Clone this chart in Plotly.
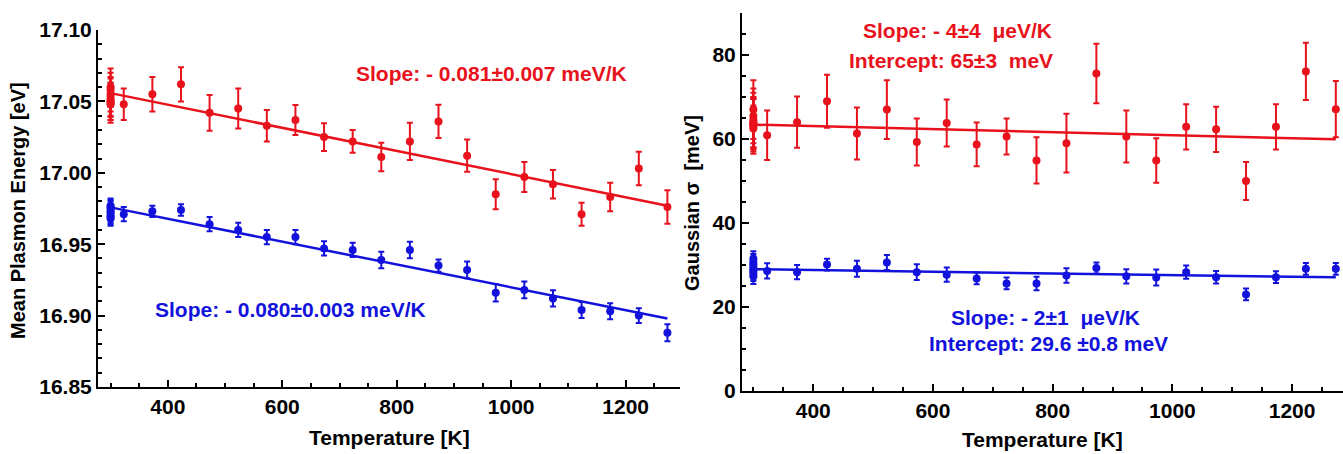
import plotly.graph_objects as go

W, H = 1343, 454

# ---------------- data ----------------
temps = [300, 300, 300, 300, 300, 300, 300, 300,
         323, 373, 423, 473, 523, 573, 623, 673, 723, 773,
         823, 873, 923, 973, 1023, 1073, 1123, 1173, 1223, 1273]

# Left panel: mean plasmon energy [eV]
energy_red = [17.060, 17.058, 17.055, 17.053, 17.051, 17.050, 17.049, 17.048,
              17.048, 17.055, 17.062, 17.042, 17.045, 17.033, 17.037, 17.025, 17.022, 17.011,
              17.022, 17.036, 17.012, 16.985, 16.997, 16.992, 16.971, 16.983, 17.003, 16.976]
energy_red_err = [0.013, 0.012, 0.012, 0.013, 0.012, 0.013, 0.012, 0.013,
                  0.011, 0.012, 0.012, 0.0125, 0.014, 0.011, 0.0105, 0.0097, 0.008, 0.010,
                  0.013, 0.0117, 0.0113, 0.0105, 0.0105, 0.010, 0.008, 0.010, 0.0117, 0.0117]
energy_blue = [16.977, 16.976, 16.975, 16.973, 16.972, 16.970, 16.969, 16.968,
               16.971, 16.973, 16.974, 16.964, 16.960, 16.955, 16.955, 16.947, 16.946, 16.939,
               16.946, 16.935, 16.932, 16.916, 16.918, 16.912, 16.904, 16.903, 16.900, 16.888]
energy_blue_err = [0.005, 0.005, 0.005, 0.005, 0.005, 0.005, 0.005, 0.005,
                   0.005, 0.004, 0.004, 0.005, 0.005, 0.005, 0.005, 0.005, 0.005, 0.0058,
                   0.0058, 0.0043, 0.0058, 0.0062, 0.0058, 0.0057, 0.0056, 0.0056, 0.0052, 0.006]

# Right panel: Gaussian sigma [meV]
sigma_red = [67.0, 65.5, 64.5, 64.0, 63.5, 63.0, 62.5, 63.8,
             60.9, 64.0, 69.0, 61.3, 67.0, 59.3, 63.8, 58.7, 60.6, 54.9,
             59.0, 75.6, 60.6, 54.9, 62.9, 62.3, 50.0, 62.9, 76.1, 67.1]
sigma_red_err = [7.0, 6.5, 6.5, 6.0, 6.0, 6.5, 5.5, 6.0,
                 5.9, 6.1, 6.3, 6.2, 7.0, 5.6, 5.6, 5.2, 4.3, 5.5,
                 7.0, 7.1, 6.2, 5.3, 5.4, 5.4, 4.5, 5.4, 6.8, 6.7]
sigma_blue = [31.5, 30.8, 30.2, 29.6, 29.0, 28.5, 28.0, 27.3,
              28.6, 28.3, 30.1, 29.1, 30.6, 28.3, 27.7, 26.8, 25.6, 25.6,
              27.5, 29.3, 27.3, 27.0, 28.3, 27.1, 23.0, 27.1, 29.1, 29.1]
sigma_blue_err = [1.8, 1.8, 1.8, 1.8, 1.8, 1.8, 1.8, 1.8,
                  1.8, 1.7, 1.4, 1.9, 1.8, 1.9, 1.7, 1.4, 1.4, 1.6,
                  1.7, 1.3, 1.7, 1.9, 1.6, 1.5, 1.4, 1.4, 1.4, 1.4]

# linear fits (value = intercept + slope * T)
fit_energy_red = (17.0801, -0.000081)
fit_energy_blue = (16.9998, -0.000080)
fit_sigma_red = (64.5, -0.0036)
fit_sigma_blue = (29.6, -0.002)

RED = "#e8121c"
BLUE = "#1212dc"
FONT = "Liberation Sans, Arial, sans-serif"

fig = go.Figure()

def add_series(x, y, err, color, xa, ya):
    fig.add_trace(go.Scatter(
        x=x, y=y, mode="markers",
        marker=dict(color=color, size=8),
        error_y=dict(type="data", array=err, visible=True, color=color,
                     thickness=2, width=3),
        xaxis=xa, yaxis=ya, showlegend=False))

def add_fit(x, fit, color, xa, ya):
    x0, x1 = min(x), max(x)
    b, m = fit
    fig.add_trace(go.Scatter(
        x=[x0, x1], y=[b + m * x0, b + m * x1], mode="lines",
        line=dict(color=color, width=2.5),
        xaxis=xa, yaxis=ya, showlegend=False))

add_fit(temps, fit_energy_red, RED, "x", "y")
add_fit(temps, fit_energy_blue, BLUE, "x", "y")
add_series(temps, energy_red, energy_red_err, RED, "x", "y")
add_series(temps, energy_blue, energy_blue_err, BLUE, "x", "y")

add_fit(temps, fit_sigma_red, RED, "x2", "y2")
add_fit(temps, fit_sigma_blue, BLUE, "x2", "y2")
add_series(temps, sigma_red, sigma_red_err, RED, "x2", "y2")
add_series(temps, sigma_blue, sigma_blue_err, BLUE, "x2", "y2")

tickfont = dict(family=FONT, size=21, color="black", weight="bold")

def axis_common():
    return dict(showline=True, linecolor="black", linewidth=2,
                ticks="inside", ticklen=7, tickwidth=2, tickcolor="black",
                showgrid=False, zeroline=False, tickfont=tickfont,
                automargin=False)

minor = lambda d: dict(dtick=d, ticks="inside", ticklen=4, tickwidth=1.5, tickcolor="black")

fig.update_layout(
    width=W, height=H,
    margin=dict(l=0, r=0, t=0, b=0),
    paper_bgcolor="white", plot_bgcolor="white",
    xaxis=dict(domain=[98 / W, 680 / W], range=[278, 1295], anchor="y",
               dtick=200, tick0=0, minor=minor(50), **axis_common()),
    yaxis=dict(domain=[1 - 387 / H, 1 - 30 / H], range=[16.85, 17.10], anchor="x",
               dtick=0.05, tick0=16.85, tickformat=".2f", minor=minor(0.01),
               **axis_common()),
    xaxis2=dict(domain=[742 / W, 1.0], range=[281, 1285], anchor="y2",
                dtick=200, tick0=0, minor=minor(50), **axis_common()),
    yaxis2=dict(domain=[1 - 391 / H, 1 - 13 / H], range=[0, 90], anchor="x2",
                dtick=20, tick0=0, minor=minor(5), **axis_common()),
)

def ann(text, x, y, color="black", size=21, angle=0):
    fig.add_annotation(text=text, x=x / W, y=1 - y / H, xref="paper", yref="paper",
                       showarrow=False, textangle=angle, xanchor="center", yanchor="middle",
                       font=dict(family=FONT, size=size, color=color, weight="bold"))

ann("Slope: - 0.081±0.007 meV/K", 491, 73, RED)
ann("Slope: - 0.080±0.003 meV/K", 290, 309, BLUE)
ann("Slope: - 4±4  μeV/K", 957, 31, RED)
ann("Intercept: 65±3  meV", 951, 60, RED)
ann("Slope: - 2±1  μeV/K", 1045, 317, BLUE)
ann("Intercept: 29.6 ±0.8 meV", 1048, 343, BLUE)

ann("Temperature [K]", 389, 437, "black", 21)
ann("Temperature [K]", 1042, 439, "black", 21)
ann("Mean Plasmon Energy [eV]", 18, 211, "black", 20, -90)
ann("Gaussian σ  [meV]", 692, 203, "black", 20, -90)

fig.write_html("out.html",
               config={"displayModeBar": False},
               post_script="document.body.style.margin='0px';document.body.style.overflow='hidden';")
